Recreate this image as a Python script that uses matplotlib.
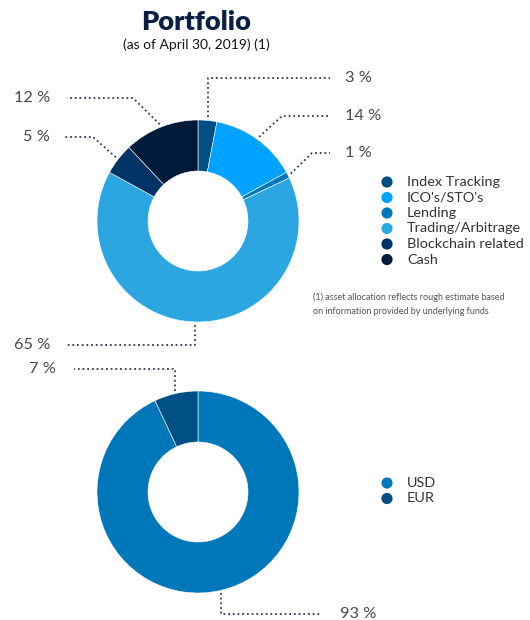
import matplotlib.pyplot as plt
import numpy as np

alloc_labels = ["Index Tracking", "ICO's/STO's", "Lending", "Trading/Arbitrage", "Blockchain related", "Cash"]
alloc_values = [3, 14, 1, 65, 5, 12]
alloc_colors = ["#004f85", "#00a2ff", "#0077b8", "#2ca6e0", "#003366", "#001a3a"]

cur_labels = ["USD", "EUR"]
cur_values = [93, 7]
cur_colors = ["#0077b8", "#004f85"]

W, H = 530, 620
FONT = ["Lato", "DejaVu Sans"]
plt.rcParams['font.family'] = FONT

fig = plt.figure(figsize=(W / 100, H / 100), dpi=100)
ax = fig.add_axes([0, 0, 1, 1])

def Y(y):
    return H - y

R = 101
WIDTH = 51
LINE_COL = "#2f3a5a"
TXT_COL = "#4a4a4a"

def donut(values, colors, cx, cy):
    ax.pie(values, colors=colors, center=(cx, Y(cy)), radius=R, startangle=90,
           counterclock=False, wedgeprops=dict(width=WIDTH, edgecolor='white', linewidth=0.4))

def anchors(values, cx, cy, off=3):
    total = float(sum(values))
    cum = 0.0
    pts = []
    for v in values:
        mid = np.deg2rad(90 - 360 * (cum + v / 2) / total)
        pts.append((cx + (R + off) * np.cos(mid), cy - (R + off) * np.sin(mid)))
        cum += v
    return pts

def leader(anchor, elbow, end_x, text, text_x, ha, vertical=False):
    ax_, ay_ = anchor
    ex, ey = elbow
    if vertical:
        ex = ax_
    xs = [ax_, ex, end_x]
    ys = [Y(ay_), Y(ey), Y(ey)]
    ax.plot(xs, ys, linestyle=(0, (1, 1.6)), color=LINE_COL, linewidth=1.3)
    ax.text(text_x, Y(ey), text, ha=ha, va='center', fontsize=11.8, color=TXT_COL)

# top donut
cx1, cy1 = 198, 221
donut(alloc_values, alloc_colors, cx1, cy1)
a1 = anchors(alloc_values, cx1, cy1)
top_layout = [
    ((0, 78), 330, 345, 'left', True),
    ((282, 116), 330, 345, 'left', False),
    ((312, 153), 330, 345, 'left', False),
    ((0, 345), 66, 50, 'right', True),
    ((93, 137), 64, 50, 'right', False),
    ((133, 98), 67, 50, 'right', False),
]
for v, an, (el, endx, tx, ha, vert) in zip(alloc_values, a1, top_layout):
    leader(an, el, endx, f"{v} %", tx, ha, vert)

# bottom donut
cx2, cy2 = 198, 492
donut(cur_values, cur_colors, cx2, cy2)
a2 = anchors(cur_values, cx2, cy2)
bot_layout = [
    ((0, 614), 320, 340, 'left', True),
    ((0, 369), 74, 56, 'right', True),
]
for v, an, (el, endx, tx, ha, vert) in zip(cur_values, a2, bot_layout):
    leader(an, el, endx, f"{v} %", tx, ha, vert)

ax.set_xlim(0, W)
ax.set_ylim(0, H)
ax.set_aspect('auto')
ax.axis('off')

# titles
ax.text(196, Y(22), "Portfolio", ha='center', va='center', fontsize=19.5,
        fontweight='heavy', color="#0b1f45")
ax.text(196, Y(45), "(as of April 30, 2019) (1)", ha='center', va='center',
        fontsize=10, color="#111111")

# legends
def legend(labels, colors, y0, dy=15.5):
    for i, (lab, col) in enumerate(zip(labels, colors)):
        y = y0 + i * dy
        ax.scatter([387], [Y(y)], s=65, color=col, edgecolors='none')
        ax.text(407, Y(y), lab, ha='left', va='center', fontsize=10.4,
                color="#333333")

legend(alloc_labels, alloc_colors, 182)
legend(cur_labels, cur_colors, 483)

ax.text(313, Y(297), "(1) asset allocation reflects rough estimate based",
        ha='left', va='center', fontsize=6.5, color="#555555")
ax.text(313, Y(311), "on information provided by underlying funds",
        ha='left', va='center', fontsize=6.5, color="#555555")

fig.savefig("out.png", dpi=100, facecolor='white')
